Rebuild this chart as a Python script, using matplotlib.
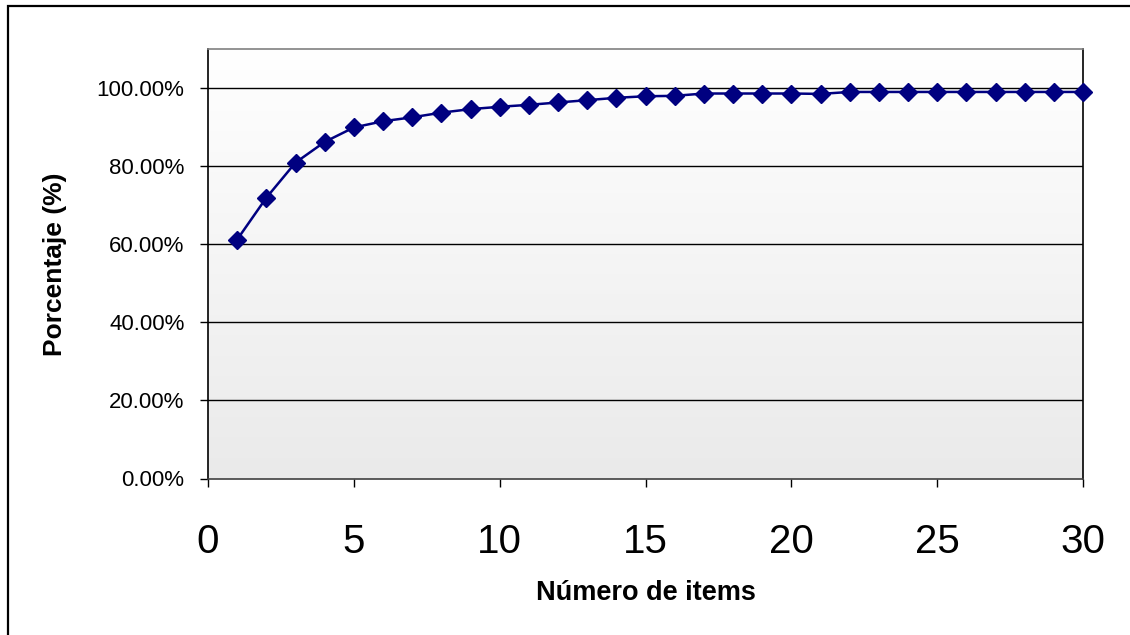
import numpy as np
import matplotlib
matplotlib.use("Agg")
import matplotlib.pyplot as plt
from matplotlib.patches import Rectangle
from matplotlib.ticker import FuncFormatter

plt.rcParams['font.family'] = ['Liberation Sans', 'DejaVu Sans']

# Cumulative percentage per number of items
items = list(range(1, 31))
porcentaje = [0.612, 0.719, 0.809, 0.862, 0.899, 0.915, 0.925, 0.937, 0.946, 0.952,
              0.957, 0.963, 0.969, 0.975, 0.979, 0.980, 0.986, 0.986, 0.986, 0.986,
              0.985, 0.990, 0.990, 0.990, 0.990, 0.990, 0.990, 0.990, 0.990, 0.990]
y_ticks = [0.0, 0.2, 0.4, 0.6, 0.8, 1.0]
x_ticks = [0, 5, 10, 15, 20, 25, 30]

W, H = 1130, 635
fig = plt.figure(figsize=(W / 100, H / 100), dpi=100)
ax = fig.add_axes([208 / W, 1 - 478.5 / H, (1083 - 208) / W, (478.5 - 49) / H])

# outer chart border (runs off the right and bottom edges)
fig.patches.append(Rectangle((8 / W, -0.1), 1.2, 1 - 6 / H + 0.1, transform=fig.transFigure,
                             fill=False, edgecolor='black', linewidth=1.6, zorder=10))

# gradient fill of the plot area: white at top, light gray at bottom
grad = np.linspace(1.0, 0.0, 256).reshape(-1, 1)
ax.imshow(grad, extent=[0, 1, 0, 1], transform=ax.transAxes, aspect='auto',
          cmap=matplotlib.colors.LinearSegmentedColormap.from_list('g', ['#eaeaea', '#ffffff']),
          zorder=0)

for yt in y_ticks[1:]:
    ax.axhline(yt, color='black', linewidth=1.0, zorder=1)

ax.plot(items, porcentaje, color='#000080', linewidth=1.8, marker='D', markersize=9,
        markerfacecolor='#000080', markeredgecolor='#000080', zorder=3, clip_on=False)

ax.set_xlim(0, 30)
ax.set_ylim(0, 1.1)
ax.set_xticks(x_ticks)
ax.set_yticks(y_ticks)
ax.yaxis.set_major_formatter(FuncFormatter(lambda v, p: f"{v * 100:.2f}%"))

ax.tick_params(axis='y', direction='out', length=6, width=1, labelsize=16, pad=11)
ax.tick_params(axis='x', direction='out', length=6, width=1, labelsize=29, pad=26)

ax.spines['top'].set_color('#808080')
ax.spines['bottom'].set_color('#404040')
for s in ax.spines.values():
    s.set_linewidth(1.2)

ax.set_xlabel('Número de items', fontsize=19.5, fontweight='bold', labelpad=14)
ax.set_ylabel('Porcentaje (%)', fontsize=19, fontweight='bold', labelpad=21)

fig.savefig('out.png', dpi=100, facecolor='white')
